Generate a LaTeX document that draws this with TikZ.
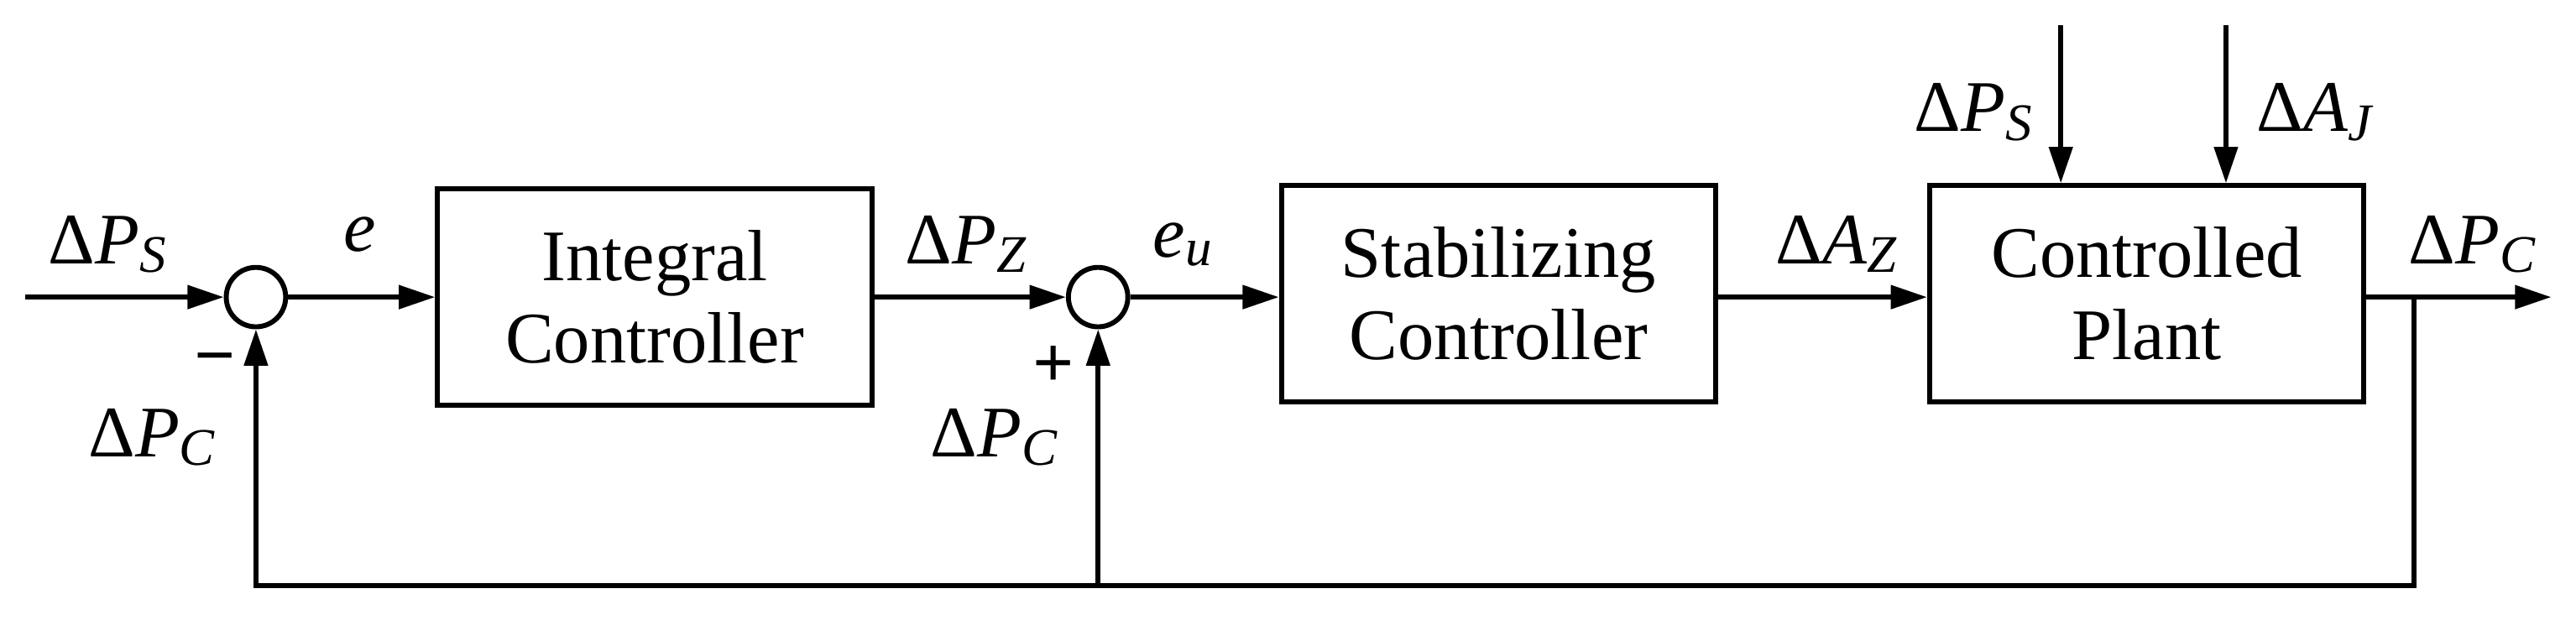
\documentclass[tikz,border=0pt]{standalone}
\usepackage{fontspec}
\setmainfont{Liberation Serif}
\usetikzlibrary{arrows.meta}
\newcommand{\dl}[2]{Δ\textit{#1}\raisebox{-0.12em}{\fontsize{32}{34}\selectfont\textit{#2}}}
\begin{document}
\begin{tikzpicture}[x=1pt,y=-1pt,line width=3pt,
  box/.style={draw,minimum width=263pt,minimum height=131pt,align=center,font=\fontsize{44}{50}\selectfont},
  sum/.style={draw,circle,minimum size=36pt,inner sep=0pt},
  lab/.style={font=\fontsize{44}{50}\selectfont},
  arr/.style={-{Triangle[length=22pt,width=14pt]}}]
\useasboundingbox (0,0) rectangle (1560,375.6);
\coordinate (in) at (15,180);
\node[sum] (s1) at (155,180) {};
\node[box] (b1) at (396.5,180) {Integral\\Controller};
\node[sum] (s2) at (665,180) {};
\node[box] (b2) at (907.5,178) {Stabilizing\\Controller};
\node[box] (b3) at (1300,178) {Controlled\\Plant};
\coordinate (out) at (1545,180);
\coordinate (tap) at (1462,180);
\coordinate (fb) at (1462,355);
\coordinate (d1) at (1248,15);
\coordinate (d2) at (1348,15);
\draw[arr] (in) -- (s1);
\draw[arr] (s1) -- (b1.west|-s1);
\draw[arr] (b1.east|-s2) -- (s2);
\draw[arr] (s2) -- (b2.west|-s2);
\draw[arr] (b2.east|-s2) -- (b3.west|-s2);
\draw[arr] (b3.east|-s2) -- (out);
\draw[arr] (tap) -- (fb) -| (s1);
\draw[arr] (s2|-fb) -- (s2);
\draw[arr] (d1) -- (d1|-b3.north);
\draw[arr] (d2) -- (d2|-b3.north);
\node[lab] (l1) at (65,148) {\dl{P}{S}};
\node[lab] (l2) at (218,142) {\textit{e}};
\node[lab] (l3) at (585,148) {\dl{P}{Z}};
\node[lab] (l4) at (716,148) {\textit{e}\raisebox{-0.12em}{\fontsize{32}{34}\selectfont\textit{u}}};
\node[lab] (l5) at (1112,148) {\dl{A}{Z}};
\node[lab] (l6) at (1195,68) {\dl{P}{S}};
\node[lab] (l7) at (1402,68) {\dl{A}{J}};
\node[lab] (l8) at (1497,148) {\dl{P}{C}};
\node[lab] (m1) at (130,222) {\textbf{−}};
\node[lab] (l9) at (92,265) {\dl{P}{C}};
\node[lab] (p1) at (638,222) {\textbf{+}};
\node[lab] (l10) at (602,265) {\dl{P}{C}};
\end{tikzpicture}
\end{document}
